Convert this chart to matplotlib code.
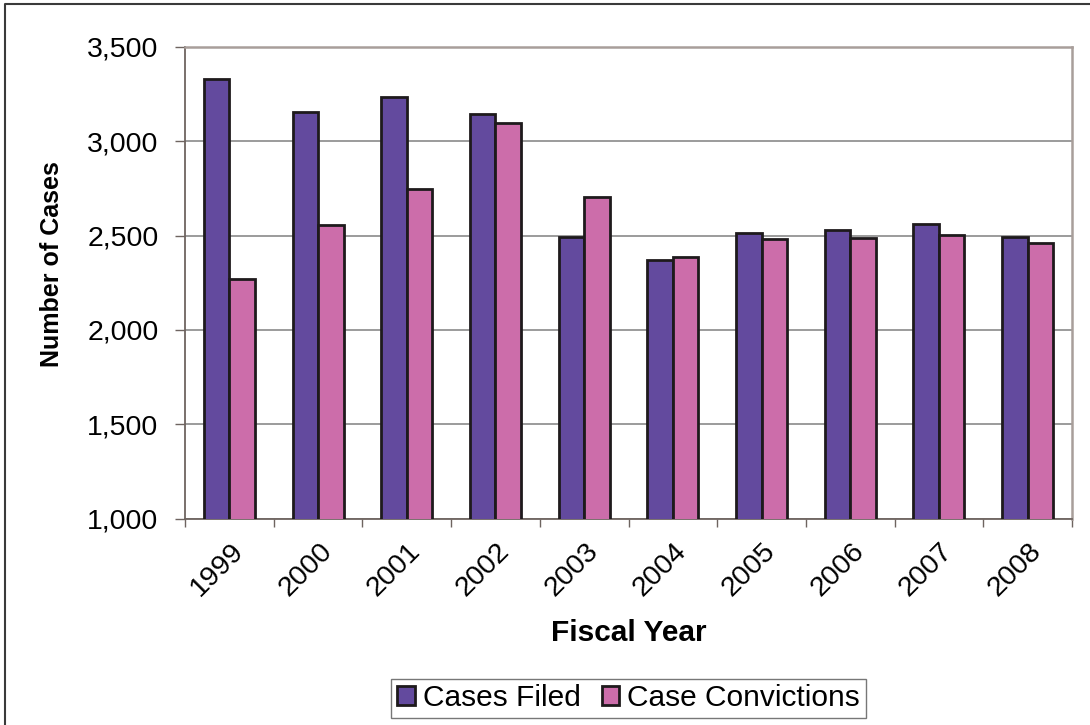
import numpy as np
import matplotlib
matplotlib.use("Agg")
import matplotlib.pyplot as plt
import matplotlib.transforms as mtransforms
from matplotlib.patches import Patch
from matplotlib.lines import Line2D

plt.rcParams['font.family'] = ['Liberation Sans', 'DejaVu Sans']

years = ["1999", "2000", "2001", "2002", "2003", "2004", "2005", "2006", "2007", "2008"]
cases_filed = [3330, 3155, 3235, 3143, 2493, 2370, 2515, 2530, 2562, 2493]
case_convictions = [2270, 2557, 2744, 3097, 2702, 2385, 2482, 2488, 2504, 2460]
series_names = ["Cases Filed", "Case Convictions"]
y_ticks = [1000, 1500, 2000, 2500, 3000, 3500]

c_filed = "#634A9E"
c_conv = "#CC6DAA"
edge = "#1e1a1c"

fig = plt.figure(figsize=(10.9, 7.25), dpi=100)
ax = fig.add_axes([185/1090, 1-518.7/725, (1072-185)/1090, (518.7-46.7)/725])

x = np.arange(len(years))
w = 0.287
ax.bar(x - w/2, cases_filed, width=w, color=c_filed, edgecolor=edge, linewidth=2.0, zorder=3)
ax.bar(x + w/2, case_convictions, width=w, color=c_conv, edgecolor=edge, linewidth=2.0, zorder=3)

ax.set_xlim(-0.5, len(years) - 0.5)
ax.set_ylim(1000, 3500)
ax.set_yticks(y_ticks)
ax.set_yticklabels([f"{v:,}" for v in y_ticks], fontsize=20.5)
ax.yaxis.grid(True, color="#808080", linewidth=1.1, zorder=0)
ax.set_axisbelow(True)
ax.tick_params(axis='y', direction='out', length=7, width=1, color="#6E6460", pad=12)

ax.set_xticks(np.arange(len(years) + 1) - 0.5)
ax.set_xticklabels([])
ax.tick_params(axis='x', direction='out', length=6, width=1, color="#6E6460")

for i, lab in enumerate(years):
    trans = mtransforms.blended_transform_factory(ax.transData, ax.transAxes) + \
        mtransforms.ScaledTranslation(10/100, -29/100, fig.dpi_scale_trans)
    ax.text(i, 0, lab, transform=trans, rotation=45, ha='right', va='center',
            rotation_mode='anchor', fontsize=20.5)

for s in ['left', 'bottom']:
    ax.spines[s].set_color("#6E6460")
    ax.spines[s].set_linewidth(1.3)
for s in ['top', 'right']:
    ax.spines[s].set_color("#A89E9A")
    ax.spines[s].set_linewidth(1.8)

fig.text(52/1090, 1-264/725, "Number of Cases", rotation=90, ha='center', va='center',
         fontsize=18, fontweight='bold')
fig.text(629/1090, 1-633/725, "Fiscal Year", ha='center', va='center',
         fontsize=21.5, fontweight='bold')

handles = [Patch(facecolor=c_filed, edgecolor=edge, linewidth=2.0),
           Patch(facecolor=c_conv, edgecolor=edge, linewidth=2.0)]
leg = fig.legend(handles, series_names, loc='center', ncol=2,
                 bbox_to_anchor=(628.5/1090, 1-698.5/725), bbox_transform=fig.transFigure,
                 fontsize=21.5, frameon=True, fancybox=False, borderpad=0.2,
                 handlelength=0.6, handleheight=0.6, handletextpad=0.25, columnspacing=0.7,
                 borderaxespad=0)
leg.get_frame().set_edgecolor("#555555")
leg.get_frame().set_linewidth(1.0)

fig.add_artist(Line2D([5/1090, 5/1090, 1.0], [0.0, 1-4/725, 1-4/725],
                      transform=fig.transFigure, color="#3a3a3a", linewidth=1.5))

fig.savefig("out.png", dpi=100)
